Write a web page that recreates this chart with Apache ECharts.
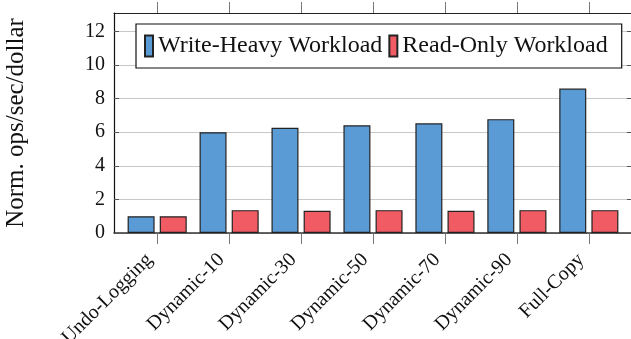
<!DOCTYPE html>
<html>
<head>
<meta charset="utf-8">
<script src="https://cdn.jsdelivr.net/npm/echarts@6/dist/echarts.min.js"></script>
<style>
html,body{margin:0;padding:0;background:#fff;}
#chart{width:631px;height:339px;}
</style>
</head>
<body>
<div id="chart"></div>
<script>
const categories = ['Undo-Logging','Dynamic-10','Dynamic-30','Dynamic-50','Dynamic-70','Dynamic-90','Full-Copy'];
const writeHeavy = [1.0, 6.0, 6.27, 6.41, 6.53, 6.78, 8.6];
const readOnly   = [1.0, 1.36, 1.32, 1.36, 1.32, 1.36, 1.36];
const seriesNames = ['Write-Heavy Workload','Read-Only Workload'];
const yTicks = [0, 2, 4, 6, 8, 10, 12];
const yMax = 13.1;

const FONT = '"Liberation Serif","Times New Roman",serif';
const idx = categories.map((c, i) => i);

const chart = echarts.init(document.getElementById('chart'), null, {renderer: 'canvas'});
chart.setOption({
  animation: false,
  backgroundColor: '#fff',
  grid: {left: 114, top: 13, right: -1, bottom: 106, containLabel: false, outerBoundsMode: 'none'},
  legend: {
    data: seriesNames,
    left: 136, top: 24,
    orient: 'horizontal',
    padding: [10, 14, 10, 8],
    itemGap: 6,
    itemWidth: 8, itemHeight: 21,
    icon: 'rect',
    backgroundColor: '#fff',
    borderColor: '#111', borderWidth: 1.2, borderRadius: 0,
    textStyle: {fontFamily: FONT, fontSize: 24, color: '#111'}
  },
  xAxis: [{
    type: 'value',
    min: -0.6, max: 6.6,
    position: 'bottom',
    axisLine: {show: true, onZero: false, lineStyle: {color: '#333', width: 1.5}},
    axisTick: {show: true, inside: false, length: 11, customValues: idx, lineStyle: {color: '#777', width: 1}},
    axisLabel: {
      show: true, customValues: idx, rotate: 45, margin: 16,
      padding: [0, 11, 0, 0],
      fontFamily: FONT, fontSize: 20, color: '#111',
      formatter: v => categories[Math.round(v)] || ''
    },
    splitLine: {show: false}
  }, {
    type: 'value',
    min: -0.6, max: 6.6,
    position: 'top',
    axisLine: {show: true, onZero: false, lineStyle: {color: '#222', width: 1.2}},
    axisTick: {show: true, inside: false, length: 11, customValues: idx, lineStyle: {color: '#777', width: 1}},
    axisLabel: {show: false},
    splitLine: {show: false}
  }],
  yAxis: [{
    type: 'value',
    min: 0, max: yMax,
    position: 'left',
    name: 'Norm. ops/sec/dollar',
    nameLocation: 'middle',
    nameGap: 85,
    nameTextStyle: {fontFamily: FONT, fontSize: 25, color: '#111'},
    axisLine: {show: true, onZero: false, lineStyle: {color: '#111', width: 1.2}},
    axisTick: {show: true, inside: true, length: 5, customValues: yTicks, lineStyle: {color: '#555'}},
    axisLabel: {show: true, customValues: yTicks, margin: 9, fontFamily: FONT, fontSize: 20, color: '#111'},
    splitLine: {show: true, lineStyle: {color: '#c8c8c8', width: 1}}
  }, {
    type: 'value',
    min: 0, max: yMax,
    position: 'right',
    axisLine: {show: true, onZero: false, lineStyle: {color: '#111', width: 1.2}},
    axisTick: {show: true, inside: true, length: 5, customValues: yTicks, lineStyle: {color: '#555'}},
    axisLabel: {show: false},
    splitLine: {show: false}
  }],
  series: [{
    name: seriesNames[0],
    type: 'bar',
    xAxisIndex: 0, yAxisIndex: 0,
    barWidth: 27,
    barGap: '19%',
    itemStyle: {color: '#5B9BD5', borderColor: '#222', borderWidth: 1.2},
    data: writeHeavy.map((v, i) => [i, v])
  }, {
    name: seriesNames[1],
    type: 'bar',
    xAxisIndex: 0, yAxisIndex: 0,
    barWidth: 27,
    barGap: '19%',
    itemStyle: {color: '#F15B63', borderColor: '#222', borderWidth: 1.2},
    data: readOnly.map((v, i) => [i, v])
  }]
});
</script>
</body>
</html>
